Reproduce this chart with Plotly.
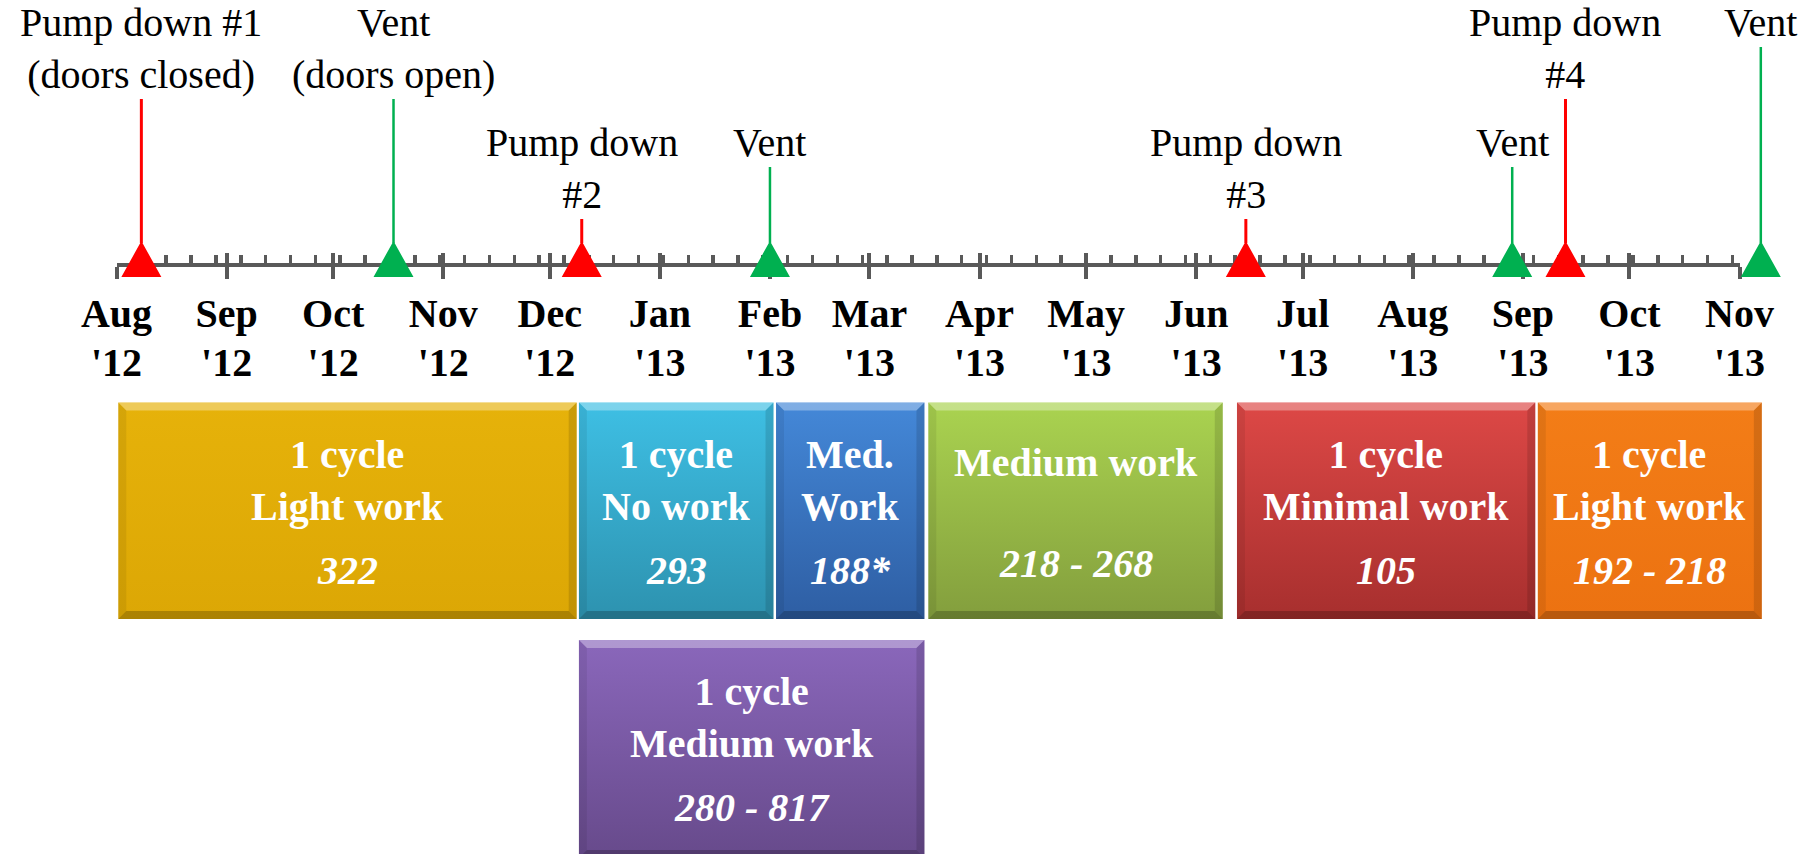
import pandas as pd
import plotly.graph_objects as go

# ---------------- data ----------------
month_dates = ["2012-08-01", "2012-09-01", "2012-10-01", "2012-11-01", "2012-12-01",
               "2013-01-01", "2013-02-01", "2013-03-01", "2013-04-01", "2013-05-01",
               "2013-06-01", "2013-07-01", "2013-08-01", "2013-09-01", "2013-10-01",
               "2013-11-01"]
month_labels = ["Aug", "Sep", "Oct", "Nov", "Dec", "Jan", "Feb", "Mar", "Apr", "May",
                "Jun", "Jul", "Aug", "Sep", "Oct", "Nov"]
year_labels = ["'12", "'12", "'12", "'12", "'12", "'13", "'13", "'13", "'13", "'13",
               "'13", "'13", "'13", "'13", "'13", "'13"]

event_dates = ["2012-08-08", "2012-10-18", "2012-12-10", "2013-02-01",
               "2013-06-15", "2013-08-29", "2013-09-13", "2013-11-07"]
event_types = ["Pump down", "Vent", "Pump down", "Vent",
               "Pump down", "Vent", "Pump down", "Vent"]
event_labels = ["Pump down #1<br>(doors closed)", "Vent<br>(doors open)",
                "Pump down<br>#2", "Vent", "Pump down<br>#3", "Vent",
                "Pump down<br>#4", "Vent"]

box_starts = ["2012-08-01 12:00", "2012-12-09 05:00", "2013-02-02 17:00",
              "2013-03-17 14:00", "2013-06-12 12:00", "2013-09-05 05:00",
              "2012-12-09 05:00"]
box_ends = ["2012-12-08 14:00", "2013-02-02 00:00", "2013-03-16 12:00",
            "2013-06-08 12:00", "2013-09-04 12:00", "2013-11-07 07:00",
            "2013-03-16 12:00"]
box_headers = ["1 cycle<br>Light work", "1 cycle<br>No work", "Med.<br>Work",
               "Medium work", "1 cycle<br>Minimal work", "1 cycle<br>Light work",
               "1 cycle<br>Medium work"]
box_values = ["322", "293", "188*", "218 - 268", "105", "192 - 218", "280 - 817"]
box_row = [0, 0, 0, 0, 0, 0, 1]

# ---------------- style / layout ----------------
W, H = 1809, 854
AXIS_PX = (116.5, 1739.5)     # horizontal extent of the timeline axis
AXIS_Y = 265
GRAY = "#595959"
RED = "#FF0000"
GREEN = "#00B050"
FONT = "Liberation Serif"
FS = 40
label_tier = [1, 1, 3, 2, 3, 2, 1, 0]
TIER_TOP = {0: 47, 1: 99, 2: 167, 3: 219}
TRI_BASE, TRI_APEX, TRI_HALF_PX = 277, 241, 20
ROW_TOP = [402.5, 640]
ROW_BOT = [619, 858]
BEVEL = 8
box_colors = [("#E6B20A", "#DCA705"), ("#3EBFE4", "#2D92AF"), ("#4488D8", "#2E5EA3"),
              ("#AAD350", "#839E3D"), ("#DD4846", "#A72F2E"), ("#F37D17", "#EC7211"),
              ("#8A67BB", "#674A8B")]

t0 = pd.Timestamp(month_dates[0])
t1 = pd.Timestamp(month_dates[-1])
px_per_day = (AXIS_PX[1] - AXIS_PX[0]) / ((t1 - t0) / pd.Timedelta(days=1))


def days(px):
    return pd.Timedelta(days=px / px_per_day)


full_range = [t0 - days(AXIS_PX[0]), t1 + days(W - AXIS_PX[1])]

fig = go.Figure()

# dummy traces so the timeline axes get drawn
for xa in ("x", "x3"):
    fig.add_trace(go.Scatter(x=[t0], y=[AXIS_Y], xaxis=xa, yaxis="y", mode="markers",
                             marker=dict(opacity=0), hoverinfo="skip", showlegend=False))

# ---- boxes ----
tops, bots, lefts, rights = ([], [], []), ([], [], []), ([], [], []), ([], [], [])
for i in range(len(box_starts)):
    s, e = pd.Timestamp(box_starts[i]), pd.Timestamp(box_ends[i])
    top, bot = ROW_TOP[box_row[i]], ROW_BOT[box_row[i]]
    c_top, c_bot = box_colors[i]
    fig.add_trace(go.Scatter(
        x=[s, e, e, s, s], y=[top, top, bot, bot, top], xaxis="x2", yaxis="y",
        mode="lines", line=dict(width=0), fill="toself",
        fillgradient=dict(type="vertical", colorscale=[[0, c_top], [1, c_bot]],
                          start=top, stop=bot),
        hoverinfo="skip", showlegend=False))
    bd = days(BEVEL)
    polys = [
        (tops, [s, e, e - bd, s + bd, s], [top, top, top + BEVEL, top + BEVEL, top]),
        (bots, [s, e, e - bd, s + bd, s], [bot, bot, bot - BEVEL, bot - BEVEL, bot]),
        (lefts, [s, s + bd, s + bd, s, s], [top, top + BEVEL, bot - BEVEL, bot, top]),
        (rights, [e, e - bd, e - bd, e, e], [top, top + BEVEL, bot - BEVEL, bot, top]),
    ]
    for store, xs, ys in polys:
        store[0].extend(xs + [None])
        store[1].extend(ys + [None])

for store, col in ((tops, "rgba(255,255,255,0.32)"), (bots, "rgba(0,0,0,0.22)"),
                   (lefts, "rgba(0,0,0,0.07)"), (rights, "rgba(0,0,0,0.12)")):
    fig.add_trace(go.Scatter(x=store[0], y=store[1], xaxis="x2", yaxis="y", mode="lines",
                             line=dict(width=0), fill="toself", fillcolor=col,
                             hoverinfo="skip", showlegend=False))

# box texts
for i in range(len(box_starts)):
    s, e = pd.Timestamp(box_starts[i]), pd.Timestamp(box_ends[i])
    mid = s + (e - s) / 2
    top = ROW_TOP[box_row[i]]
    nlines = box_headers[i].count("<br>") + 1
    fig.add_annotation(x=mid, y=top + 27 + 8 * (2 - nlines), xref="x2", yref="y",
                       text="<b>" + box_headers[i] + "</b>", showarrow=False,
                       xanchor="center", yanchor="top",
                       font=dict(family=FONT, size=FS, color="white"))
    fig.add_annotation(x=mid, y=top + 143 - 7 * (2 - nlines), xref="x2", yref="y",
                       text="<b><i>" + box_values[i] + "</i></b>", showarrow=False,
                       xanchor="center", yanchor="top",
                       font=dict(family=FONT, size=FS, color="white"))

# ---- event stems ----
for kind, col, lw in (("Pump down", RED, 3), ("Vent", GREEN, 2.5)):
    xs, ys = [], []
    for d, t, tier in zip(event_dates, event_types, label_tier):
        if t == kind:
            xs += [pd.Timestamp(d), pd.Timestamp(d), None]
            ys += [TRI_APEX + 2, TIER_TOP[tier], None]
    fig.add_trace(go.Scatter(x=xs, y=ys, xaxis="x2", yaxis="y", mode="lines",
                             line=dict(color=col, width=lw), hoverinfo="skip",
                             showlegend=False))

# ---- event triangles ----
hw = days(TRI_HALF_PX)
for kind, col in (("Pump down", RED), ("Vent", GREEN)):
    xs, ys = [], []
    for d, t in zip(event_dates, event_types):
        if t == kind:
            d = pd.Timestamp(d)
            xs += [d - hw, d + hw, d, d - hw, None]
            ys += [TRI_BASE, TRI_BASE, TRI_APEX, TRI_BASE, None]
    fig.add_trace(go.Scatter(x=xs, y=ys, xaxis="x2", yaxis="y", mode="lines",
                             line=dict(width=0, color=col), fill="toself", fillcolor=col,
                             hoverinfo="skip", showlegend=False))

# ---- event labels ----
for d, lab, tier in zip(event_dates, event_labels, label_tier):
    fig.add_annotation(x=pd.Timestamp(d), y=TIER_TOP[tier], xref="x2", yref="y",
                       text=lab, showarrow=False, xanchor="center", yanchor="bottom",
                       font=dict(family=FONT, size=FS, color="black"))

tickfont = dict(family=FONT, size=FS, color="black", weight="bold")
axis_pos = 1 - AXIS_Y / H
dom = [AXIS_PX[0] / W, AXIS_PX[1] / W]

fig.update_layout(
    template="none",
    width=W, height=H, margin=dict(l=0, r=0, t=0, b=0, pad=0, autoexpand=False),
    paper_bgcolor="white", plot_bgcolor="rgba(0,0,0,0)",
    showlegend=False, hovermode=False,
    xaxis=dict(type="date", domain=dom, range=[t0, t1], anchor="free", position=axis_pos,
               automargin=False,
               showline=True, linecolor=GRAY, linewidth=4, ticks="outside", ticklen=12,
               tickwidth=4, tickcolor=GRAY, tickmode="array", tickvals=month_dates,
               ticktext=month_labels, tickfont=tickfont, tickangle=0,
               ticklabelstandoff=0, showgrid=False, zeroline=False),
    xaxis3=dict(type="date", overlaying="x", range=[t0, t1], anchor="free",
                position=axis_pos, side="bottom", showline=False, ticks="inside",
                automargin=False,
                ticklen=12, tickwidth=4, tickcolor=GRAY, tickmode="array",
                tickvals=month_dates, ticktext=year_labels, tickfont=tickfont,
                tickangle=0, ticklabelstandoff=70, showgrid=False, zeroline=False,
                minor=dict(ticks="inside", ticklen=10, tickwidth=3.5, tickcolor=GRAY,
                           dtick=7 * 86400000, tick0=month_dates[0], showgrid=False)),
    xaxis2=dict(type="date", domain=[0, 1], range=full_range, visible=False, anchor="y",
                automargin=False),
    yaxis=dict(range=[H, 0], domain=[0, 1], visible=False, anchor="x2",
               automargin=False),
)

fig.write_html("out.html",
               config={"displayModeBar": False, "staticPlot": True},
               post_script="document.body.style.margin='0px';"
                           "document.body.style.overflow='hidden';")
